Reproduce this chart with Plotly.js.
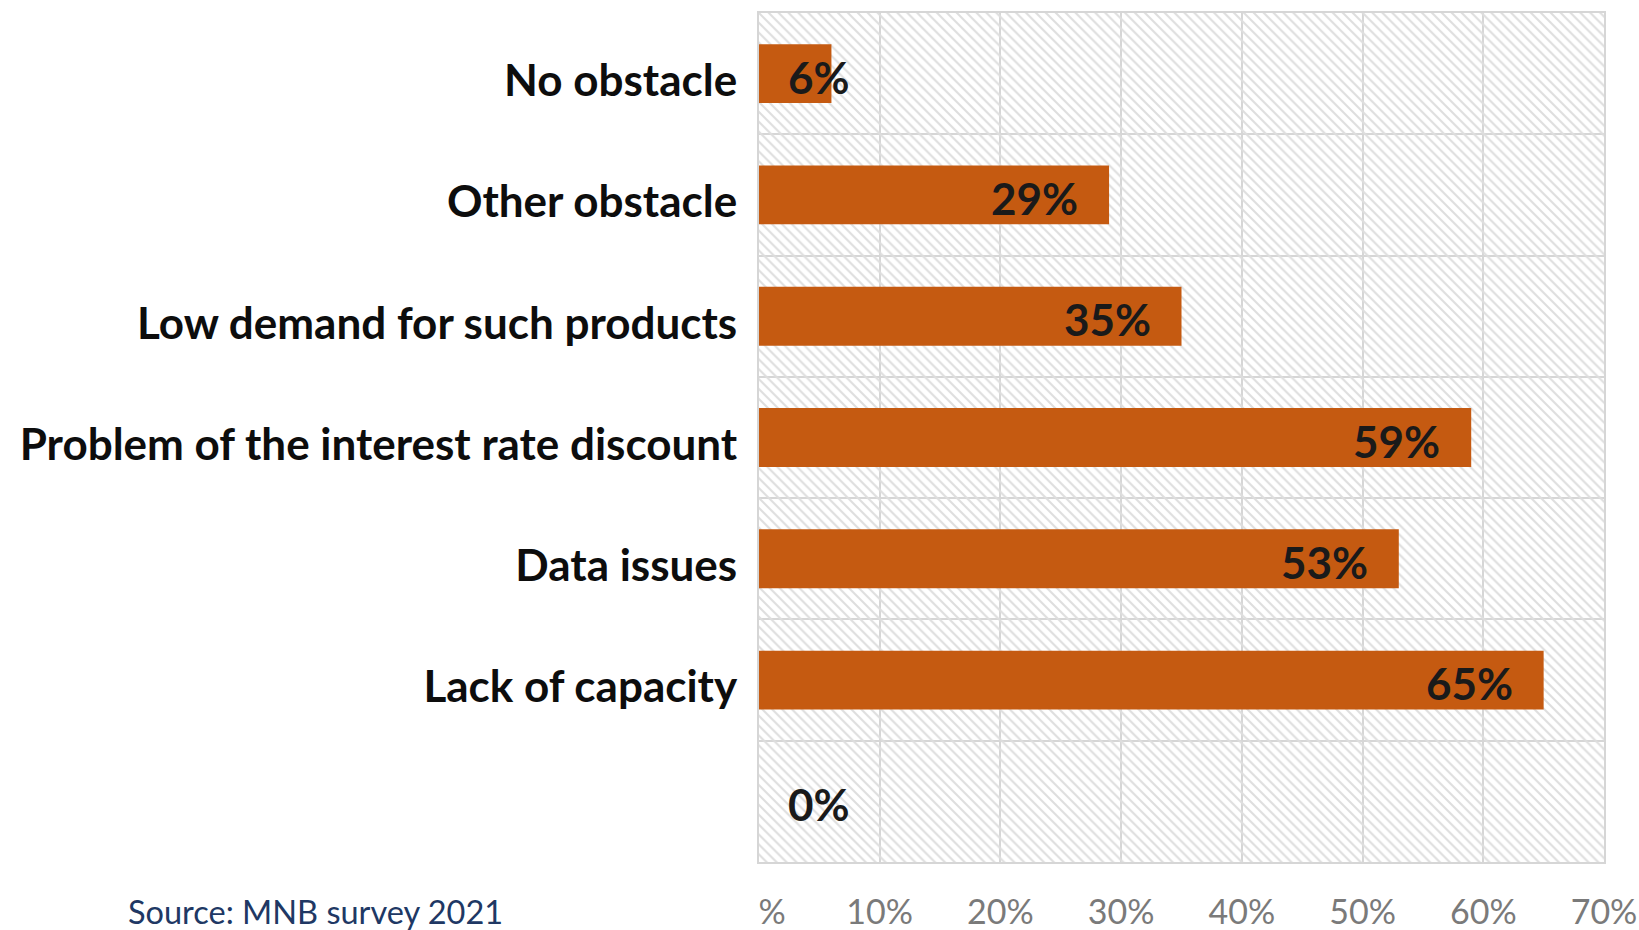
<!DOCTYPE html>
<html>
<head>
<meta charset="utf-8">
<script src="https://cdn.plot.ly/plotly-3.0.1.min.js"></script>
<style>
  html, body { margin: 0; padding: 0; background: #ffffff; }
  #chart { width: 1639px; height: 930px; }
</style>
</head>
<body>
<div id="chart"></div>
<script>
// ---- data ----
const categories = ["No obstacle", "Other obstacle", "Low demand for such products",
  "Problem of the interest rate discount", "Data issues", "Lack of capacity", " "];
const values = [6, 29, 35, 59, 53, 65, 0];
const xTickVals = [0, 10, 20, 30, 40, 50, 60, 70];
const xTickText = ["\u00a0\u00a0\u00a0%", "10%", "20%", "30%", "40%", "50%", "60%", "70%"];
const axisMax = 70;
const sourceText = "Source: MNB survey 2021";

// ---- styles ----
const barColor = "#C55A11";
const gridColor = "#d6d6d6";
const fontFamily = "Lato, 'Noto Sans', sans-serif";

const background = {
  type: "bar",
  orientation: "h",
  y: categories,
  x: categories.map(() => axisMax),
  width: 1,
  marker: {
    color: "rgba(0,0,0,0)",
    line: { width: 0 },
    pattern: { shape: "\\", fgcolor: "#dedede", bgcolor: "rgba(0,0,0,0)", size: 7, solidity: 0.3 }
  },
  hoverinfo: "skip",
  showlegend: false
};

const bars = {
  type: "bar",
  orientation: "h",
  y: categories,
  x: values,
  width: 0.485,
  marker: { color: barColor, line: { width: 0 } },
  hoverinfo: "skip",
  showlegend: false
};

const labelFont = { family: fontFamily, size: 44, color: "#1a1a1a", weight: 700 };
const annotations = values.map((v, i) => {
  const small = v < 10;
  return {
    x: small ? 0 : v,
    y: categories[i],
    xref: "x", yref: "y",
    text: "<b>" + v + "%</b>",
    showarrow: false,
    xanchor: small ? "left" : "right",
    xshift: small ? 27 : -29,
    yshift: -3,
    font: labelFont
  };
});

annotations.push({
  xref: "paper", yref: "paper",
  x: (126 - 759) / 845, y: (862 - 933) / 849,
  xanchor: "left", yanchor: "bottom",
  text: sourceText,
  showarrow: false,
  font: { family: fontFamily, size: 32.5, color: "#203864" }
});

const layout = {
  width: 1639,
  height: 930,
  margin: { l: 759, r: 35, t: 13, b: 68, pad: 0 },
  paper_bgcolor: "#ffffff",
  plot_bgcolor: "#ffffff",
  barmode: "overlay",
  xaxis: {
    range: [0, axisMax],
    tickmode: "array",
    tickvals: xTickVals,
    ticktext: xTickText,
    showgrid: true,
    gridcolor: gridColor,
    gridwidth: 2,
    zeroline: false,
    showline: true,
    linecolor: gridColor,
    linewidth: 2,
    mirror: true,
    ticks: "",
    ticklabelstandoff: 19,
    tickfont: { family: fontFamily, size: 34, color: "#7a7a7a" },
    fixedrange: true
  },
  yaxis: {
    type: "category",
    categoryorder: "array",
    categoryarray: categories,
    autorange: "reversed",
    tickson: "boundaries",
    showgrid: true,
    gridcolor: gridColor,
    gridwidth: 2,
    zeroline: false,
    showline: true,
    linecolor: gridColor,
    linewidth: 2,
    mirror: true,
    ticks: "",
    ticklabelstandoff: 11,
    ticklabelshift: -7,
    tickfont: { family: fontFamily, size: 44, color: "#0d0d0d", weight: 700 },
    fixedrange: true
  },
  annotations: annotations,
  showlegend: false
};

Plotly.newPlot("chart", [background, bars], layout, { displayModeBar: false, staticPlot: true });
</script>
</body>
</html>
